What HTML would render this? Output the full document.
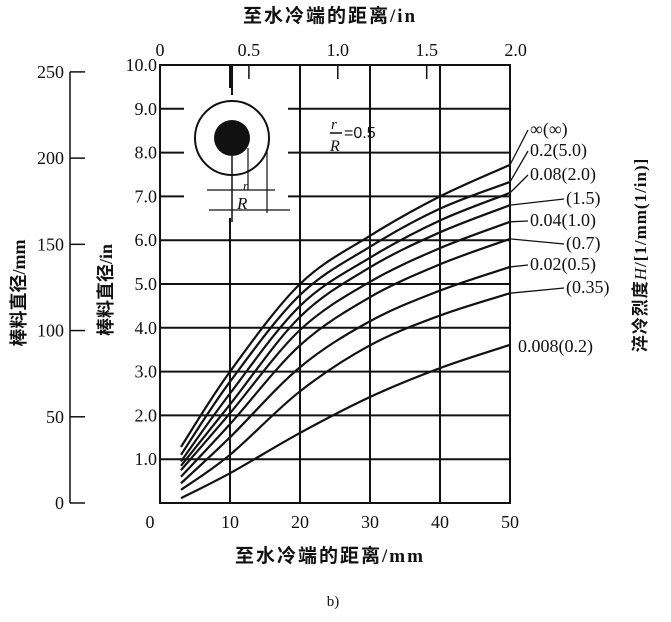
<!DOCTYPE html>
<html><head><meta charset="utf-8"><style>
body{margin:0;background:#fff;}
svg text{font-family:"Liberation Serif","Noto Serif CJK SC",serif;fill:#111;}
.cjk{font-family:"Liberation Serif","Noto Sans CJK SC",sans-serif;font-weight:bold;}
</style></head><body>
<svg id="chart" width="671" height="617" viewBox="0 0 671 617" xmlns="http://www.w3.org/2000/svg">
<g id="grid"></g>
<g id="inset">
  <rect x="184" y="88" width="104" height="130" fill="#fff"/>
  <rect x="161" y="88" width="24" height="8" fill="#fff"/>
  <line x1="232" y1="65" x2="232" y2="95" stroke="#111" stroke-width="2"/>
  <circle cx="232" cy="138" r="37" fill="none" stroke="#111" stroke-width="2"/>
  <circle cx="232" cy="138" r="18" fill="#111"/>
  <line x1="232" y1="156" x2="232" y2="222" stroke="#111" stroke-width="1.5"/>
  <line x1="248" y1="148" x2="248" y2="190" stroke="#111" stroke-width="1.2"/>
  <line x1="267" y1="151" x2="267" y2="213" stroke="#111" stroke-width="1.2"/>
  <line x1="207" y1="190" x2="275" y2="190" stroke="#111" stroke-width="1.2"/>
  <line x1="209" y1="210" x2="290" y2="210" stroke="#111" stroke-width="1.2"/>
  <text x="237" y="209" font-size="17" font-style="italic">R</text>
  <text x="243" y="190" font-size="13" font-style="italic">r</text>
</g>
<g>
  <text x="331" y="129" font-size="15" font-style="italic" font-family="Liberation Sans">r</text>
  <line x1="330" y1="133" x2="342" y2="133" stroke="#111" stroke-width="1.5"/>
  <text x="330" y="151" font-size="16" font-style="italic" font-family="Liberation Sans">R</text>
  <text x="344" y="138" font-size="16" style="font-family:'Liberation Sans',sans-serif">=0.5</text>
</g>
<g id="curves"></g>
<g id="axes"></g>
<text class="cjk" x="330" y="22" font-size="19" letter-spacing="2" text-anchor="middle">至水冷端的距离/in</text>
<text class="cjk" x="330" y="562" font-size="19" letter-spacing="2" text-anchor="middle">至水冷端的距离/mm</text>
<text x="333" y="606" font-size="15" text-anchor="middle">b)</text>
<text class="cjk" x="0" y="0" font-size="18" text-anchor="middle" transform="translate(25,293) rotate(-90)">棒料直径/mm</text>
<text class="cjk" x="0" y="0" font-size="18" text-anchor="middle" transform="translate(112,290) rotate(-90)">棒料直径/in</text>
<text class="cjk" x="0" y="0" font-size="17" letter-spacing="1" text-anchor="middle" transform="translate(646,255) rotate(-90)">淬冷烈度<tspan font-style="italic" font-weight="normal">H</tspan>/[1/mm(1/in)]</text>
</svg>
<script>
const xs = [3, 10, 20, 30, 40, 50];
const seriesLabels = ["∞(∞)","0.2(5.0)","0.08(2.0)","(1.5)","0.04(1.0)","(0.7)","0.02(0.5)","(0.35)","0.008(0.2)"];
const sInf  = [1.28, 3.0, 5.0, 6.1, 7.0, 7.72];
const s5    = [1.1, 2.77, 4.75, 5.85, 6.72, 7.33];
const s2    = [0.95, 2.5, 4.5, 5.6, 6.45, 7.08];
const s15   = [0.85, 2.25, 4.25, 5.38, 6.18, 6.80];
const s1    = [0.75, 2.05, 3.95, 5.05, 5.82, 6.42];
const s07   = [0.6, 1.8, 3.6, 4.7, 5.45, 6.03];
const s05   = [0.45, 1.5, 3.1, 4.15, 4.85, 5.39];
const s035  = [0.3, 1.1, 2.55, 3.6, 4.28, 4.79];
const s02   = [0.11, 0.68, 1.6, 2.42, 3.08, 3.61];
const allSeries = [sInf, s5, s2, s15, s1, s07, s05, s035, s02];
const xTicksMm = [0,10,20,30,40,50];
const xTicksIn = [0,0.5,1.0,1.5,2.0];
const yTicksIn = [0,1,2,3,4,5,6,7,8,9,10];
const yTicksMm = [0,50,100,150,200,250];
const labelYs = [135,156,180,204,226,249,270,293,352];

const X0=160, X1=510, Y0=503, Y1=65;
const sx = v => X0 + (v/50)*(X1-X0);
const sy = v => Y0 - (v/10)*(Y0-Y1);
const NS="http://www.w3.org/2000/svg";
function mk(tag, attrs, parent){const e=document.createElementNS(NS,tag);for(const k in attrs)e.setAttribute(k,attrs[k]);parent.appendChild(e);return e;}
const grid=document.getElementById('grid'), axes=document.getElementById('axes'), curves=document.getElementById('curves');

xTicksMm.forEach(v=>{
  if(v>0&&v<50){const l=mk('line',{x1:sx(v),y1:Y1,x2:sx(v),y2:Y0,stroke:'#111','stroke-width':2},grid);
  
  }
  const t=mk('text',{x:sx(v)-(v===0?10:0),y:528,'font-size':18,'text-anchor':'middle'},axes);t.textContent=v;
  
  
});
yTicksIn.forEach(v=>{
  if(v>0&&v<10){const l=mk('line',{x1:X0,y1:sy(v),x2:X1,y2:sy(v),stroke:'#111','stroke-width':2},grid);
  
  }
  if(v>0){const t=mk('text',{x:157,y:sy(v)+6,'font-size':18,'text-anchor':'end'},axes);t.textContent=v.toFixed(1);
  
  }
});
xTicksIn.forEach(v=>{
  const x=sx(v*25.4);
  if(v>0&&v<2){const l=mk('line',{x1:x,y1:Y1,x2:x,y2:Y1+14,stroke:'#111','stroke-width':1.5},axes);
  
  }
  const t=mk('text',{x:x,y:56,'font-size':18,'text-anchor':'middle'},axes);t.textContent=v===0?'0':v.toFixed(1);
  
  
});
const fr=mk('rect',{x:X0,y:Y1,width:X1-X0,height:Y0-Y1,fill:'none',stroke:'#111','stroke-width':2},axes);


const la=mk('line',{x1:70,y1:sy(250/25.4),x2:70,y2:sy(0),stroke:'#111','stroke-width':1.5},axes);


yTicksMm.forEach(v=>{
  const y=sy(v/25.4);
  mk('line',{x1:70,y1:y,x2:85,y2:y,stroke:'#111','stroke-width':1.5},axes);
  const t=mk('text',{x:64,y:y+6,'font-size':18,'text-anchor':'end'},axes);t.textContent=v;
  
  
});
function pathFor(vals){
  const p=xs.map((x,i)=>[sx(x),sy(vals[i])]);
  let d='M'+p[0][0]+','+p[0][1];
  for(let i=0;i<p.length-1;i++){
    const p0=p[Math.max(0,i-1)],p1=p[i],p2=p[i+1],p3=p[Math.min(p.length-1,i+2)];
    const c1=[p1[0]+(p2[0]-p0[0])/6,p1[1]+(p2[1]-p0[1])/6];
    const c2=[p2[0]-(p3[0]-p1[0])/6,p2[1]-(p3[1]-p1[1])/6];
    d+=` C${c1[0]},${c1[1]} ${c2[0]},${c2[1]} ${p2[0]},${p2[1]}`;
  }
  return d;
}
allSeries.forEach((vals,i)=>{
  const p=mk('path',{d:pathFor(vals),fill:'none',stroke:'#111','stroke-width':2.2},curves);
  
  
  const ey=sy(vals[vals.length-1]), ly=labelYs[i];
  const lab=seriesLabels[i];
  const tx = lab.startsWith('(') ? 566 : (i===8?518:530);
  if(i<8){const ld=mk('line',{x1:X1,y1:ey,x2:tx-2,y2:ly-5,stroke:'#111','stroke-width':1.3},curves);
  
  }
  const t=mk('text',{x:tx,y:ly,'font-size':18},curves);t.textContent=lab;
  
  
});
</script>
</body></html>
